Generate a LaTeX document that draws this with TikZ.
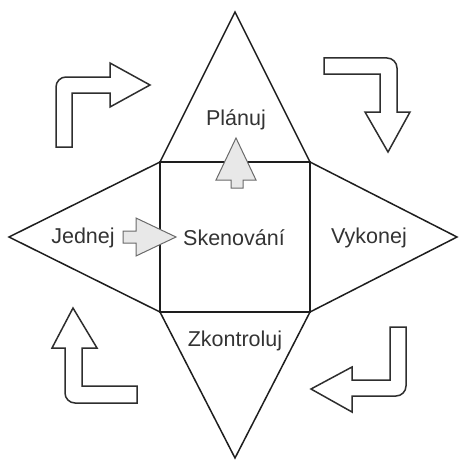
\documentclass[tikz,border=0pt]{standalone}
\usepackage{fontspec}
\setmainfont{Liberation Sans}
\definecolor{edge}{HTML}{1E1E1E}
\definecolor{txt}{HTML}{333333}
\definecolor{bent}{HTML}{2E2E2E}
\definecolor{smallfill}{HTML}{E8E8E8}
\definecolor{smalldraw}{HTML}{6A6A6A}
\begin{document}
\begin{tikzpicture}[x=1pt,y=-1pt,
  shapeline/.style={draw=edge,line width=1.5pt,line join=miter},
  label/.style={text=txt,font=\fontsize{21.5}{25}\selectfont,inner sep=0pt,anchor=center},
  bentarrow/.style={draw=bent,line width=1.5pt,fill=white,line join=miter},
  smallarrow/.style={draw=smalldraw,line width=1pt,fill=smallfill,line join=miter}]
\useasboundingbox (0,0) rectangle (460,460);
% square corners
\coordinate (tl) at (160,162);
\coordinate (tr) at (310,162);
\coordinate (bl) at (160,312);
\coordinate (br) at (310,312);
% triangle apexes
\coordinate (apT) at (235,12);
\coordinate (apB) at (235,458);
\coordinate (apL) at (9,237);
\coordinate (apR) at (457,237);
% triangles and square
\draw[shapeline] (tl) -- (apT) -- (tr);
\draw[shapeline] (tl) -- (apL) -- (bl);
\draw[shapeline] (tr) -- (apR) -- (br);
\draw[shapeline] (bl) -- (apB) -- (br);
\draw[shapeline] (tl) rectangle (br);
% labels
\node[label] (planuj) at (236,120) {Plánuj};
\node[label] (jednej) at (83,238) {Jednej};
\node[label] (skenovani) at (234,238) {Skenování};
\node[label] (vykonej) at (369,238) {Vykonej};
\node[label] (zkontroluj) at (235,341) {Zkontroluj};
% small arrows
\draw[smallarrow] (231,188) -- (231,180) -- (216,180) -- (236,138) -- (256,180) -- (243,180) -- (243,188) -- cycle;
\draw[smallarrow] (123,231) -- (136,231) -- (136,218) -- (176,237) -- (136,256) -- (136,243) -- (123,243) -- cycle;
% bent arrows
\draw[bentarrow] (56,147) [rounded corners=10pt] -- (56,77) [sharp corners] -- (110,77) -- (110,63) -- (150,85) -- (110,107) -- (110,93) -- (72,93) -- (72,147) -- cycle;
\draw[bentarrow] (324,58) [rounded corners=10pt] -- (397,58) [sharp corners] -- (397,112) -- (410,112) -- (388,152) -- (365,112) -- (380,112) -- (380,74) -- (324,74) -- cycle;
\draw[bentarrow] (390,327) -- (406,327) [rounded corners=10pt] -- (406,396) [sharp corners] -- (352,396) -- (352,412) -- (311,389) -- (352,367) -- (352,380) -- (390,380) -- cycle;
\draw[bentarrow] (73,308) -- (97,348) -- (82,348) -- (82,386) -- (137,386) -- (137,403) [rounded corners=10pt] -- (65,403) [sharp corners] -- (65,348) -- (52,348) -- cycle;
\end{tikzpicture}
\end{document}
